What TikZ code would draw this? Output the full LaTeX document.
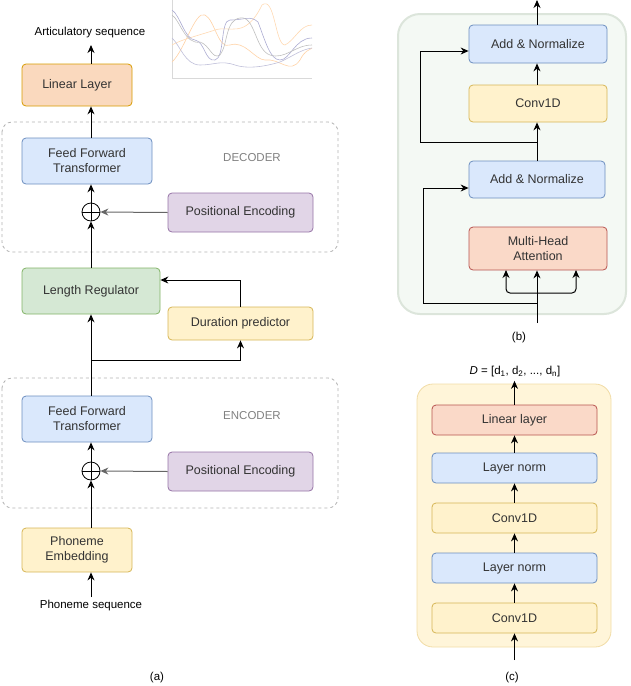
\documentclass[tikz,border=0pt]{standalone}
\usepackage{fontspec}
\setmainfont{Liberation Sans}
\usetikzlibrary{arrows.meta}
\definecolor{bF}{HTML}{DAE8FC}\definecolor{bD}{HTML}{6C8EBF}
\definecolor{yF}{HTML}{FFF2CC}\definecolor{yD}{HTML}{D6B656}
\definecolor{gF}{HTML}{D5E8D4}\definecolor{gD}{HTML}{82B366}
\definecolor{pF}{HTML}{E1D5E7}\definecolor{pD}{HTML}{9673A6}
\definecolor{oF}{HTML}{FAD9BE}\definecolor{oD}{HTML}{D79B00}
\definecolor{rF}{HTML}{FAD9C8}\definecolor{rD}{HTML}{B85450}
\definecolor{txt}{HTML}{333333}
\tikzset{
 box/.style={rounded corners=4pt,draw,line width=0.8pt,align=center,font=\fontsize{12.5}{15}\selectfont,text=txt,inner sep=0pt},
 blu/.style={box,fill=bF,draw=bD},
 yel/.style={box,fill=yF,draw=yD},
 grn/.style={box,fill=gF,draw=gD},
 pur/.style={box,fill=pF,draw=pD},
 org/.style={box,fill=oF,draw=oD},
 red/.style={box,fill=rF,draw=rD},
 arr/.style={-{Stealth[length=8pt,width=7pt]},line width=1pt},
 ln/.style={line width=0.8pt},
 grp/.style={draw=gray!60,dashed,rounded corners=10pt,line width=0.8pt},
 lbl/.style={font=\fontsize{11.5}{13}\selectfont},
}
\begin{document}
\begin{tikzpicture}[x=1pt,y=-1pt]
\useasboundingbox (0,0) rectangle (630,686);
% (a)
\draw[grp] (2,122) rectangle (338,252);
\draw[grp] (2,378) rectangle (338,508);
\node[lbl,text=gray] (dec) at (252,158) {DECODER};
\node[lbl,text=gray] (enc) at (252,416) {ENCODER};
\node[org,minimum width=110pt,minimum height=42pt] (lin) at (77,85) {Linear Layer};
\node[lbl] (art) at (90,33) {Articulatory sequence};
\node[blu,minimum width=130pt,minimum height=46pt] (fftd) at (87,161) {Feed Forward\\Transformer};
\node[draw,circle,minimum size=18pt,inner sep=0pt,line width=0.8pt] (cd) at (91,212) {};
\draw[ln] (cd.north)--(cd.south) (cd.west)--(cd.east);
\node[pur,minimum width=145pt,minimum height=39pt] (ped) at (240.5,212.5) {Positional Encoding};
\node[grn,minimum width=138pt,minimum height=46pt] (lr) at (91,291) {Length Regulator};
\node[yel,minimum width=145pt,minimum height=33pt] (dp) at (240.5,323.5) {Duration predictor};
\node[blu,minimum width=130pt,minimum height=46pt] (ffte) at (87,419) {Feed Forward\\Transformer};
\node[draw,circle,minimum size=18pt,inner sep=0pt,line width=0.8pt] (ce) at (91,471) {};
\draw[ln] (ce.north)--(ce.south) (ce.west)--(ce.east);
\node[pur,minimum width=145pt,minimum height=39pt] (pee) at (240.5,471.5) {Positional Encoding};
\node[yel,minimum width=110pt,minimum height=44pt] (pe) at (77,550) {Phoneme\\Embedding};
\node[lbl] (ps) at (91,606) {Phoneme sequence};
\node[lbl] (la) at (157,678) {(a)};
\draw[arr] (ps.north -| 91,0) -- (pe.south -| 91,0);
\draw[arr] (pe.north -| 91,0) -- (ce.south);
\draw[arr,gray!80!black] (pee.west) -- (ce.east);
\draw[arr] (ce.north) -- (ffte.south -| 91,0);
\draw[arr] (ffte.north -| 91,0) -- (lr.south);
\draw[arr] (91,360) -| (dp.south);
\draw[arr] (dp.north) |- (lr.east |- 0,280);
\draw[arr] (lr.north) -- (cd.south);
\draw[arr,gray!80!black] (ped.west) -- (cd.east);
\draw[arr] (cd.north) -- (fftd.south -| 91,0);
\draw[arr] (fftd.north -| 91,0) -- (lin.south -| 91,0);
\draw[arr] (lin.north -| 91,0) -- (91,45);
% plot
\begin{scope}
\clip (170,0) rectangle (314,80);
\draw[gray!30,line width=0.4pt] (172,0)--(172,78)--(312,78);
\draw[orange!35,line width=0.6pt] (172,62) .. controls (185,50) and (195,10) .. (205,15) .. controls (215,20) and (218,50) .. (230,45) .. controls (245,40) and (255,60) .. (265,60) .. controls (280,58) and (290,75) .. (300,60) .. controls (305,50) and (310,50) .. (312,48);
\draw[orange!30,line width=0.6pt] (172,45) .. controls (180,40) and (200,35) .. (215,30) .. controls (230,25) and (245,40) .. (262,5) .. controls (275,-5) and (275,45) .. (285,45) .. controls (295,40) and (300,25) .. (312,25);
\draw[blue!30!gray!50,line width=0.6pt] (172,10) .. controls (180,15) and (185,40) .. (195,40) .. controls (205,42) and (205,62) .. (215,60) .. controls (225,58) and (220,20) .. (230,20) .. controls (245,20) and (250,15) .. (258,22) .. controls (265,40) and (270,60) .. (280,60) .. controls (290,60) and (295,38) .. (312,38);
\draw[gray!50,line width=0.6pt] (172,15) .. controls (180,20) and (185,45) .. (200,42) .. controls (210,45) and (212,60) .. (220,55) .. controls (228,45) and (225,20) .. (240,18) .. controls (255,15) and (255,50) .. (270,55) .. controls (285,60) and (295,45) .. (312,45);
\draw[blue!25!gray!40,line width=0.6pt] (172,38) .. controls (180,45) and (185,65) .. (200,65) .. controls (215,65) and (220,60) .. (235,65) .. controls (250,70) and (270,65) .. (280,62) .. controls (295,55) and (300,50) .. (312,48);
\end{scope}
% (b)
\draw[draw=gF!80!gray!60,line width=2pt,fill=gF!25,rounded corners=22pt] (398,14) rectangle (626,314);
\node[blu,minimum width=138pt,minimum height=38pt] (an1) at (538,44) {Add \& Normalize};
\node[yel,minimum width=138pt,minimum height=37pt] (conv) at (538,103.5) {Conv1D};
\node[blu,minimum width=136pt,minimum height=37pt] (an2) at (537,179.5) {Add \& Normalize};
\node[red,minimum width=138pt,minimum height=43pt] (mha) at (538,248.5) {Multi-Head\\Attention};
\node[lbl] (lb) at (519,338) {(b)};
\coordinate (bin) at (537,323);
\draw[arr] (bin) -- (mha.south -| 537,0);
\draw[arr,rounded corners=4pt] (537,293) -| (506,270);
\draw[arr,rounded corners=4pt] (537,293) -| (576,270);
\draw[arr] (537,303) -| (423,188) -- (an2.west |- 0,188);
\draw[arr] (an2.north -| 537,0) -- (conv.south -| 537,0);
\draw[arr] (537,142) -| (420,51) -- (an1.west |- 0,51);
\draw[arr] (conv.north -| 537,0) -- (an1.south -| 537,0);
\draw[arr] (an1.north -| 537,0) -- (537,0);
% (c)
\draw[draw=oD!35,fill=yF!75,line width=0.8pt,rounded corners=16pt] (417,384) rectangle (611,647);
\node[red,minimum width=165pt,minimum height=30pt] (ll) at (514.5,420) {Linear layer};
\node[blu,minimum width=165pt,minimum height=30pt] (ln1) at (514.5,468) {Layer norm};
\node[yel,minimum width=165pt,minimum height=30pt] (c1) at (514.5,518) {Conv1D};
\node[blu,minimum width=165pt,minimum height=30pt] (ln2) at (514.5,568) {Layer norm};
\node[yel,minimum width=165pt,minimum height=30pt] (c2) at (514.5,618) {Conv1D};
\node[lbl] (dd) at (515,372) {\textit{D} = [d\textsubscript{1}, d\textsubscript{2}, ..., d\textsubscript{n}]};
\node[lbl] (lc) at (512,678) {(c)};
\coordinate (cin) at (514.5,660);
\draw[arr] (cin) -- (c2.south);
\draw[arr] (c2.north) -- (ln2.south);
\draw[arr] (ln2.north) -- (c1.south);
\draw[arr] (c1.north) -- (ln1.south);
\draw[arr] (ln1.north) -- (ll.south);
\draw[arr] (ll.north) -- (dd.south -| ll.north);
\end{tikzpicture}
\end{document}
